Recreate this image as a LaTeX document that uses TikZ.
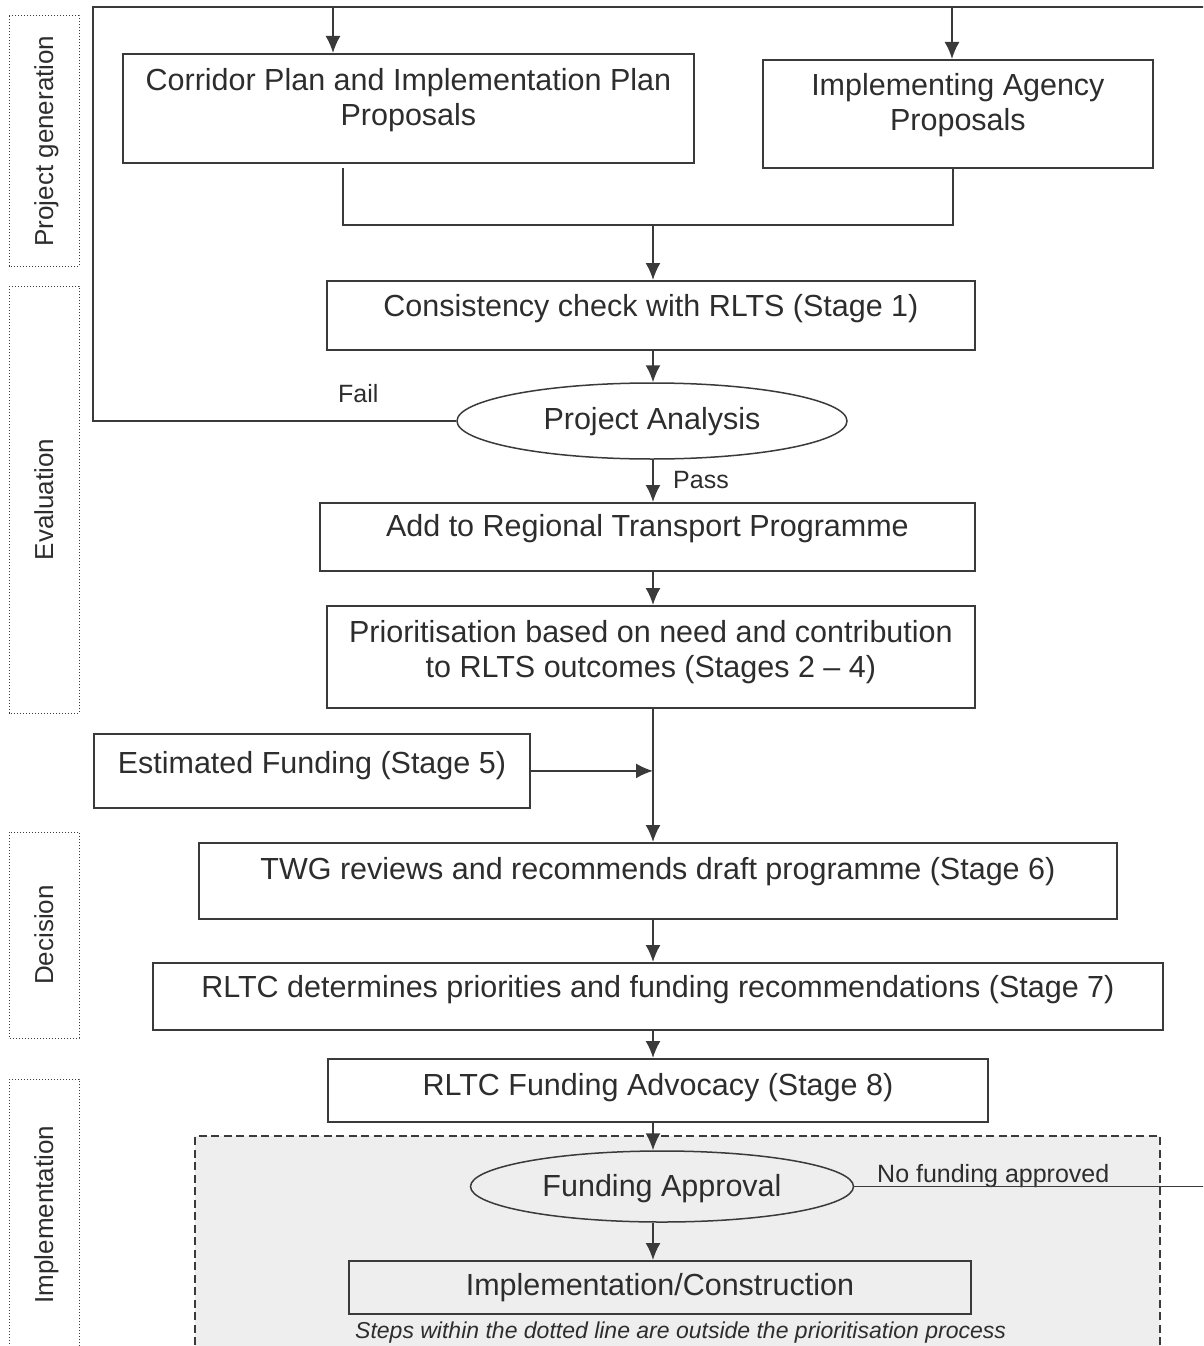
\documentclass[tikz,border=0pt]{standalone}
\usepackage{fontspec}
\setmainfont{Liberation Sans}
\usetikzlibrary{arrows.meta,shapes.geometric}
\definecolor{ink}{RGB}{58,58,58}
\definecolor{txt}{RGB}{45,45,45}
\definecolor{shade}{RGB}{238,238,238}
\newcommand\bigf{\fontsize{30.5pt}{35pt}\selectfont}
\newcommand\lblf{\fontsize{25pt}{30pt}\selectfont}
\newcommand\sidef{\fontsize{26pt}{31pt}\selectfont}
\newcommand\notef{\fontsize{23pt}{28pt}\selectfont\itshape}
\begin{document}
\begin{tikzpicture}[x=1pt,y=-1pt,
  every node/.style={text=txt},
  line/.style={draw=ink, line width=1.8pt},
  arr/.style={line, -{Latex[length=17pt,width=15pt]}},
  box/.style n args={3}{draw=ink, line width=1.8pt, rectangle, inner sep=0pt,
     anchor=north west, minimum width=#1, text height=#2, text depth=#3, font=\bigf},
  ell/.style={draw=ink, line width=1.5pt, ellipse, inner sep=0pt,
     text height=23pt, text depth=6.5pt, font=\bigf},
  side/.style={draw=ink, line width=1pt, dash pattern=on 1.2pt off 1.8pt,
     rotate=90, inner sep=0pt, minimum height=70pt, text height=21pt, text depth=3pt, font=\sidef},
  lbl/.style={inner sep=0pt, anchor=base west, font=\lblf},
  notes/.style={inner sep=0pt, anchor=base west, font=\notef}
]
\useasboundingbox (0,0) rectangle (1203,1346);
\clip (0,0) rectangle (1203,1346);

% shaded region outside the prioritisation process
\path[fill=shade] (195,1136) rectangle (1160,1370);
\draw[ink, line width=1.4pt, dash pattern=on 8pt off 4.5pt] (195,1370) -- (195,1136) -- (1160,1136) -- (1160,1370);

% side stage labels
\node[side, minimum width=250pt] (sgen) at (44,141) {Project generation};
\node[side, minimum width=427pt] (seva) at (44,499.5) {Evaluation};
\node[side, minimum width=206pt] (sdec) at (44,935) {Decision};
\node[side, minimum width=271pt] (simp) at (44,1214.5) {Implementation};

% boxes
\node[box={571pt}{53.1pt}{55.9pt}] (cor) at (122,53)
  {\begin{tabular}{@{}c@{}}Corridor Plan and Implementation Plan\\Proposals\end{tabular}};
\node[box={390pt}{52.1pt}{55.9pt}] (ia) at (762,59)
  {\begin{tabular}{@{}c@{}}Implementing Agency\\Proposals\end{tabular}};
\node[box={648pt}{36pt}{33pt}] (cons) at (326,280) {Consistency check with RLTS (Stage 1)};
\node[ell, minimum width=390pt, minimum height=76pt] (pa) at (652,421) {Project Analysis};
\node[box={655pt}{34pt}{34pt}] (add) at (319,502) {Add to Regional Transport Programme};
\node[box={648pt}{53.1pt}{48.9pt}] (pr) at (326,605)
  {\begin{tabular}{@{}c@{}}Prioritisation based on need and contribution\\to RLTS outcomes (Stages 2 -- 4)\end{tabular}};
\node[box={436pt}{40pt}{34pt}] (ef) at (93,733) {Estimated Funding (Stage 5)};
\node[box={918pt}{37pt}{39pt}] (twg) at (198,842) {TWG reviews and recommends draft programme (Stage 6)};
\node[box={1010pt}{35pt}{32pt}] (rltc) at (152,962) {RLTC determines priorities and funding recommendations (Stage 7)};
\node[box={660pt}{37pt}{26pt}] (s8) at (327,1058) {RLTC Funding Advocacy (Stage 8)};
\node[ell, minimum width=383pt, minimum height=71pt, text depth=2.5pt] (fa) at (662,1186.5) {Funding Approval};
\node[box={622pt}{35pt}{18pt}] (impl) at (348,1260) {Implementation/Construction};

% labels
\node[lbl] (fail) at (338,402) {Fail};
\node[lbl] (pass) at (673,488) {Pass};
\node[lbl] (nofund) at (877,1182) {No funding approved};
\node[notes] (note) at (355,1338) {Steps within the dotted line are outside the prioritisation process};

% helper coordinates
\coordinate (tl) at (93,7);
\coordinate (tr) at (1210,7);
\coordinate (ta) at (333,7);
\coordinate (tb) at (952,7);
\coordinate (ml) at (343,225);
\coordinate (mr) at (953,225);
\coordinate (ax) at (653,225);
\coordinate (re) at (1210,0);

% connectors
\draw[line] (pa.west) -- (pa.west -| tl) -- (tl) -- (tr);
\draw[arr] (ta) -- (ta |- cor.north);
\draw[arr] (tb) -- (tb |- ia.north);
\draw[line, shorten <=4pt] (ml |- cor.south) -- (ml) -- (mr) -- (mr |- ia.south);
\draw[arr] (ax) -- (ax |- cons.north);
\draw[arr] (ax |- cons.south) -- (ax |- pa.north);
\draw[arr] (ax |- pa.south) -- (ax |- add.north);
\draw[arr] (ax |- add.south) -- (ax |- pr.north);
\draw[arr] (ax |- pr.south) -- (ax |- twg.north);
\draw[arr] (ef.east) -- (ef.east -| ax);
\draw[arr] (ax |- twg.south) -- (ax |- rltc.north);
\draw[arr] (ax |- rltc.south) -- (ax |- s8.north);
\draw[arr] (ax |- s8.south) -- (ax |- fa.north);
\draw[arr] (ax |- fa.south) -- (ax |- impl.north);
\draw[line, line width=1.5pt] (fa.east) -- (fa.east -| re);
\end{tikzpicture}
\end{document}
